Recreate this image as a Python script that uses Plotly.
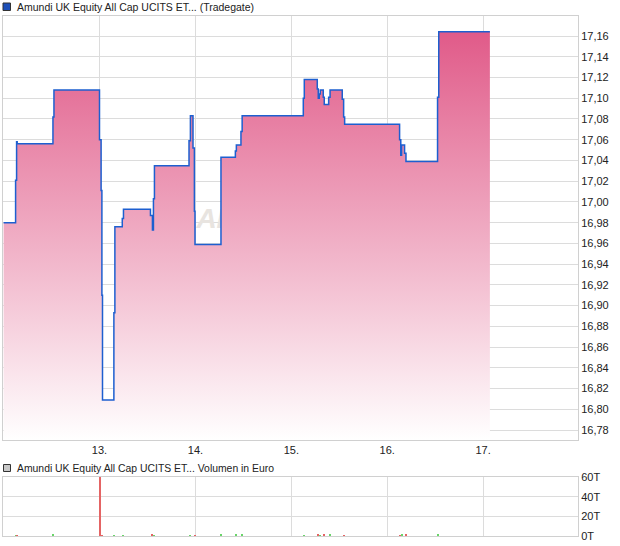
import plotly.graph_objects as go

# ---- data ----
price_times = [
    "2024-03-12 00:00", "2024-03-12 03:00", "2024-03-12 03:15", "2024-03-12 03:24",
    "2024-03-12 12:21", "2024-03-12 12:36",
    "2024-03-13 00:00", "2024-03-13 00:24", "2024-03-13 00:36", "2024-03-13 00:45",
    "2024-03-13 03:36", "2024-03-13 03:51", "2024-03-13 05:42", "2024-03-13 06:00",
    "2024-03-13 12:45", "2024-03-13 13:15", "2024-03-13 13:30", "2024-03-13 13:45",
    "2024-03-13 22:24", "2024-03-13 22:45", "2024-03-13 23:24", "2024-03-13 23:45",
    "2024-03-13 23:54",
    "2024-03-14 06:24", "2024-03-14 10:00", "2024-03-14 10:15", "2024-03-14 11:24",
    "2024-03-14 11:42",
    "2024-03-15 03:00", "2024-03-15 03:15", "2024-03-15 06:30", "2024-03-15 06:45",
    "2024-03-15 07:00", "2024-03-15 07:15", "2024-03-15 08:00", "2024-03-15 08:15",
    "2024-03-15 09:21", "2024-03-15 09:42", "2024-03-15 12:45", "2024-03-15 13:06",
    "2024-03-15 13:21",
    "2024-03-16 03:06", "2024-03-16 03:24", "2024-03-16 03:36", "2024-03-16 04:21",
    "2024-03-16 04:42", "2024-03-16 12:36", "2024-03-16 12:54",
    "2024-03-17 01:42",
]
prices = [
    16.980, 17.021, 17.058, 17.056,
    17.082, 17.108,
    17.060, 17.011, 16.910, 16.809,
    16.893, 16.976, 16.984, 16.993,
    16.987, 16.973, 17.003, 17.035,
    17.059, 17.083, 17.052, 16.991,
    16.959,
    17.043, 17.049, 17.055, 17.068,
    17.083,
    17.100, 17.118, 17.109, 17.100,
    17.104, 17.108, 17.101, 17.094,
    17.101, 17.108, 17.099, 17.082,
    17.075,
    17.060, 17.045, 17.055, 17.047,
    17.039, 17.101, 17.164,
    17.164,
]

vol_times = [
    "2024-03-12 03:12", "2024-03-12 03:24", "2024-03-12 12:30",
    "2024-03-13 00:12", "2024-03-13 00:45", "2024-03-13 03:45", "2024-03-13 06:00",
    "2024-03-13 13:15", "2024-03-13 13:45", "2024-03-13 22:45", "2024-03-14 00:00",
    "2024-03-14 06:30", "2024-03-14 10:15", "2024-03-14 11:45",
    "2024-03-15 03:15", "2024-03-15 06:45", "2024-03-15 07:15", "2024-03-15 08:15",
    "2024-03-15 09:45", "2024-03-15 13:15",
    "2024-03-16 03:15", "2024-03-16 03:45", "2024-03-16 04:45", "2024-03-16 12:45",
]
vol_values = [  # thousands of euro
    0.6, 0.6, 1.3,
    70.0, 0.4, 0.5, 0.5,
    1.7, 0.5, 0.5, 0.5,
    1.3, 1.3, 1.3,
    0.5, 2.3, 0.5, 2.3,
    1.3, 0.7,
    0.7, 1.3, 1.3, 1.3,
]
vol_up = [
    True, False, True,
    False, False, True, True,
    False, True, True, False,
    True, True, True,
    True, False, True, False,
    True, False,
    False, True, False, True,
]

day_ticks = ["2024-03-13", "2024-03-14", "2024-03-15", "2024-03-16", "2024-03-17"]
day_labels = ["13.", "14.", "15.", "16.", "17."]
price_ticks = [16.78 + 0.02 * i for i in range(20)]
vol_ticks = [0, 20, 40, 60]
vol_labels = ["0T", "20T", "40T", "60T"]

title_main = "Amundi UK Equity All Cap UCITS ET... (Tradegate)"
title_vol = "Amundi UK Equity All Cap UCITS ET... Volumen in Euro"

# ---- layout helpers ----
W, H = 620, 546
def px_x(x):
    return x / W
def px_y(y):
    return 1 - y / H

GRID = "#dcdcdc"
FONT = "Liberation Sans, Arial, sans-serif"
x_range = ["2024-03-11 23:51", "2024-03-17 23:45"]

fig = go.Figure()

# watermark (behind price fill)
fig.add_trace(go.Scatter(
    x=["2024-03-14 00:15"], y=[16.982], mode="text", text=["ARIVA.DE"],
    textposition="middle right",
    textfont=dict(size=28, color="#e8e4e0", family=FONT, style="italic", weight="bold"),
    hoverinfo="skip", showlegend=False, xaxis="x", yaxis="y",
))

fig.add_trace(go.Scatter(
    x=price_times, y=prices, mode="lines", line=dict(color="#1d5fd0", width=1.5, shape="hv"),
    fill="tozeroy",
    fillgradient=dict(type="vertical", start=16.77, stop=17.17,
                      colorscale=[[0, "rgb(255,255,255)"], [1, "rgb(224,88,135)"]]),
    showlegend=False, xaxis="x", yaxis="y",
))

fig.add_trace(go.Bar(
    x=vol_times, y=vol_values,
    marker=dict(color=["#6ad46a" if u else "#e46464" for u in vol_up], line=dict(width=0)),
    width=[900000 * 1.3] * len(vol_times),
    showlegend=False, xaxis="x2", yaxis="y2",
))

axis_common = dict(showgrid=True, gridcolor=GRID, gridwidth=1, showline=True,
                   linecolor="#d0d0d0", linewidth=1, mirror=True, zeroline=False,
                   ticks="", automargin=False,
                   tickfont=dict(size=11, color="#222", family=FONT))

fig.update_layout(
    width=W, height=H, margin=dict(l=0, r=0, t=0, b=0, pad=0, autoexpand=False),
    paper_bgcolor="white", plot_bgcolor="white",
    separators=",.", bargap=0, showlegend=False,
    xaxis=dict(domain=[px_x(3), px_x(578)], anchor="y", type="date", range=x_range,
               tickmode="array", tickvals=day_ticks, ticktext=day_labels, **axis_common),
    yaxis=dict(domain=[px_y(440), px_y(16)], anchor="x", side="right",
               range=[16.7704, 17.1793], tickmode="array", tickvals=price_ticks,
               tickformat=".2f", **axis_common),
    xaxis2=dict(domain=[px_x(3), px_x(578)], anchor="y2", type="date", range=x_range,
                tickmode="array", tickvals=day_ticks, showticklabels=False, **axis_common),
    yaxis2=dict(domain=[px_y(536), px_y(477)], anchor="x2", side="right", range=[0, 60],
                tickmode="array", tickvals=vol_ticks, ticktext=vol_labels, **axis_common),
    shapes=[
        dict(type="rect", xref="paper", yref="paper", x0=px_x(3), x1=px_x(10.5),
             y0=px_y(10.5), y1=px_y(3), fillcolor="#1d4fb8", line=dict(color="#333", width=1)),
        dict(type="rect", xref="paper", yref="paper", x0=px_x(3.5), x1=px_x(10.5),
             y0=px_y(471.5), y1=px_y(464.5), fillcolor="#c8c8c8", line=dict(color="#333", width=1)),
    ],
    annotations=[
        dict(text=title_main, xref="paper", yref="paper", x=px_x(15), y=px_y(7),
             xanchor="left", yanchor="middle", showarrow=False,
             font=dict(size=10.5, color="#222", family=FONT)),
        dict(text=title_vol, xref="paper", yref="paper", x=px_x(15), y=px_y(468),
             xanchor="left", yanchor="middle", showarrow=False,
             font=dict(size=10.4, color="#222", family=FONT)),
    ],
)

fig.write_html("out.html", config={"displayModeBar": False},
               post_script="document.body.style.margin='0';")
